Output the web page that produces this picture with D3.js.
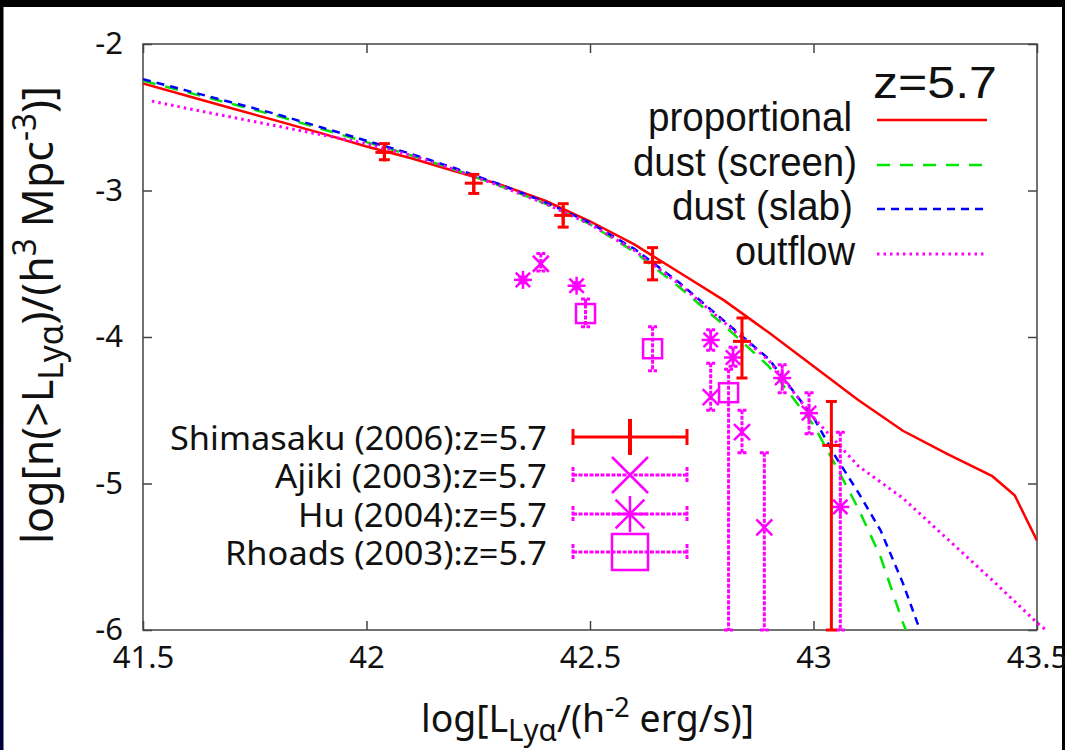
<!DOCTYPE html>
<meta charset="utf-8">
<style>
body { margin: 0; background: #fff; }
svg { display: block; }
.axis path { display: none; }
.axis line { stroke: #444; stroke-width: 1.5px; }
.axis text { font-family: "Noto Sans", sans-serif; font-size: 31px; fill: #111; }
.key text { font-family: "Liberation Sans", Arial, sans-serif; font-size: 40px; fill: #111; }
.key2 text { font-family: "Noto Sans", sans-serif; font-size: 32px; fill: #111; }
.label { font-family: "Noto Sans", sans-serif; fill: #111; }
</style>
<svg width="1065" height="750"></svg>

<script src="https://d3js.org/d3.v7.min.js"></script>
<script>

// model curves, log L vs log n(>L)
var propX = [41.5, 41.6, 41.7, 41.8, 41.9, 42.0, 42.1, 42.2, 42.3, 42.4, 42.5, 42.6, 42.7, 42.8, 42.9, 43.0, 43.1, 43.2, 43.3, 43.4, 43.45, 43.5];
var propY = [-2.27, -2.355, -2.44, -2.525, -2.61, -2.70, -2.78, -2.87, -2.96, -3.07, -3.21, -3.37, -3.56, -3.75, -3.97, -4.20, -4.43, -4.64, -4.80, -4.95, -5.08, -5.39];

var screenX = [41.5, 41.6, 41.7, 41.8, 41.9, 42.0, 42.1, 42.2, 42.3, 42.4, 42.5, 42.6, 42.7, 42.8, 42.9, 43.0, 43.05, 43.1, 43.15, 43.2, 43.22];
var screenY = [-2.25, -2.33, -2.41, -2.49, -2.58, -2.67, -2.76, -2.86, -2.97, -3.09, -3.23, -3.42, -3.66, -3.92, -4.20, -4.60, -4.88, -5.17, -5.50, -5.95, -6.1];

var slabX = [41.5, 41.6, 41.7, 41.8, 41.9, 42.0, 42.1, 42.2, 42.3, 42.4, 42.5, 42.6, 42.7, 42.8, 42.9, 43.0, 43.05, 43.1, 43.15, 43.2, 43.25];
var slabY = [-2.24, -2.32, -2.40, -2.48, -2.57, -2.66, -2.75, -2.85, -2.96, -3.08, -3.22, -3.40, -3.63, -3.89, -4.15, -4.55, -4.82, -5.06, -5.32, -5.68, -6.1];

var outflowX = [41.52, 41.6, 41.7, 41.8, 41.9, 42.0, 42.1, 42.2, 42.3, 42.4, 42.5, 42.6, 42.7, 42.8, 42.9, 43.0, 43.1, 43.2, 43.3, 43.4, 43.5, 43.52];
var outflowY = [-2.39, -2.44, -2.50, -2.56, -2.62, -2.68, -2.76, -2.86, -2.97, -3.09, -3.23, -3.41, -3.64, -3.90, -4.16, -4.55, -4.88, -5.10, -5.38, -5.66, -5.95, -6.0];

// observations: [logL, value, upper, lower]
var shimasaku = [[42.04, -2.74, -2.68, -2.79], [42.24, -2.95, -2.89, -3.02], [42.44, -3.17, -3.09, -3.25],
                 [42.64, -3.49, -3.39, -3.61], [42.84, -4.03, -3.87, -4.28], [43.04, -4.74, -4.44, -6.0]];
var ajiki = [[42.39, -3.50, -3.43, -3.55], [42.77, -4.41, -4.18, -4.50], [42.84, -4.65, -4.50, -4.79], [42.89, -5.30, -4.79, -6.0]];
var hu = [[42.35, -3.61, -3.59, -3.63], [42.47, -3.65, -3.63, -3.67], [42.77, -4.02, -3.95, -4.09], [42.82, -4.14, -4.07, -4.20],
          [42.93, -4.28, -4.19, -4.38], [42.99, -4.52, -4.38, -4.66], [43.06, -5.16, -4.65, -6.0]];
var rhoads = [[42.49, -3.84, -3.74, -3.93], [42.64, -4.08, -3.93, -4.23], [42.81, -4.38, -4.22, -6.0]];

var xTicks = [41.5, 42, 42.5, 43, 43.5];
var yTicks = [-2, -3, -4, -5, -6];

var modelNames = ["proportional", "dust (screen)", "dust (slab)", "outflow"];
var obsNames = ["Shimasaku (2006):z=5.7", "Ajiki (2003):z=5.7", "Hu (2004):z=5.7", "Rhoads (2003):z=5.7"];

var svg = d3.select("svg");

var x = d3.scaleLinear().domain([41.5, 43.5]).range([143, 1037]);
var y = d3.scaleLinear().domain([-6, -2]).range([630, 44]);

var red = "#ff0000", green = "#00e600", blue = "#0000ff", mag = "#ff00ff";

// page frame
var defs = svg.append("defs");
var grad = defs.append("linearGradient").attr("id", "edge").attr("x1", 0).attr("x2", 0).attr("y1", 0).attr("y2", 1);
grad.append("stop").attr("offset", "0.5").attr("stop-color", "#000");
grad.append("stop").attr("offset", "1").attr("stop-color", "#00003a");
defs.append("clipPath").attr("id", "plot")
  .append("rect").attr("x", 143).attr("y", 44).attr("width", 894).attr("height", 586);

svg.append("rect").attr("width", 1065).attr("height", 750).attr("fill", "#fff");
svg.append("rect").attr("width", 1065).attr("height", 7).attr("fill", "#000");
svg.append("rect").attr("width", 3.5).attr("height", 750).attr("fill", "url(#edge)");
svg.append("rect").attr("x", 1062).attr("width", 3).attr("height", 750).attr("fill", "#000");

// axes, ticks pointing inward on all four sides
var fmt = function(d) { return String(d); };
svg.append("g").attr("class", "axis").attr("transform", "translate(0,630)")
  .call(d3.axisBottom(x).tickValues(xTicks).tickSizeInner(-9).tickSizeOuter(0).tickPadding(16).tickFormat(fmt));
svg.append("g").attr("class", "axis").attr("transform", "translate(143,0)")
  .call(d3.axisLeft(y).tickValues(yTicks).tickSizeInner(-9).tickSizeOuter(0).tickPadding(20).tickFormat(fmt));
svg.append("g").attr("class", "axis").attr("transform", "translate(0,44)")
  .call(d3.axisTop(x).tickValues(xTicks).tickSizeInner(-9).tickSizeOuter(0).tickFormat(""));
svg.append("g").attr("class", "axis").attr("transform", "translate(1037,0)")
  .call(d3.axisRight(y).tickValues(yTicks).tickSizeInner(-9).tickSizeOuter(0).tickFormat(""));

svg.append("rect").attr("x", 143).attr("y", 44).attr("width", 894).attr("height", 586)
  .attr("fill", "none").attr("stroke", "#444").attr("stroke-width", 1.5);

// curves
var line = d3.line().x(function(d) { return x(d[0]); }).y(function(d) { return y(d[1]); });

var curves = [
  {xs: propX, ys: propY, color: red, dash: null, w: 2.5, clip: true},
  {xs: screenX, ys: screenY, color: green, dash: "13,10", w: 2.5, clip: true},
  {xs: slabX, ys: slabY, color: blue, dash: "8,6", w: 2.5, clip: true},
  {xs: outflowX, ys: outflowY, color: mag, dash: "2.5,4", w: 3, clip: false}
];

curves.forEach(function(c) {
  svg.append("path")
    .attr("d", line(d3.zip(c.xs, c.ys)))
    .attr("fill", "none")
    .attr("stroke", c.color)
    .attr("stroke-width", c.w)
    .attr("stroke-dasharray", c.dash)
    .attr("clip-path", c.clip ? "url(#plot)" : null);
});

// markers
function seg(g, x1, y1, x2, y2) {
  return g.append("line").attr("x1", x1).attr("y1", y1).attr("x2", x2).attr("y2", y2);
}

function marker(g, type, cx, cy, r) {
  if (type === "plus" || type === "star") {
    seg(g, cx - r, cy, cx + r, cy);
    seg(g, cx, cy - r, cx, cy + r);
  }
  if (type === "cross" || type === "star") {
    var k = type === "star" ? r * 0.8 : r;
    seg(g, cx - k, cy - k, cx + k, cy + k);
    seg(g, cx - k, cy + k, cx + k, cy - k);
  }
  if (type === "square") {
    g.append("rect").attr("x", cx - r).attr("y", cy - r).attr("width", 2 * r).attr("height", 2 * r).attr("fill", "none");
  }
}

function errbar(g, px, yHi, yLo, cap) {
  seg(g, px, yHi, px, yLo);
  seg(g, px - cap, yHi, px + cap, yHi);
  seg(g, px - cap, yLo, px + cap, yLo);
}

var magG = svg.append("g").attr("stroke", mag).attr("stroke-width", 2.5).attr("fill", "none");
[[ajiki, "cross", 8], [hu, "star", 9], [rhoads, "square", 9.5]].forEach(function(s) {
  s[0].forEach(function(d) {
    var eb = magG.append("g").attr("stroke-width", 3).attr("stroke-dasharray", "4,1.5");
    errbar(eb, x(d[0]), y(d[2]), y(d[3]), 4.5);
    marker(magG.append("g"), s[1], x(d[0]), y(d[1]), s[2]);
  });
});

var redG = svg.append("g").attr("stroke", red).attr("stroke-width", 3).attr("fill", "none");
shimasaku.forEach(function(d) {
  errbar(redG, x(d[0]), y(d[2]), y(d[3]), 5.5);
  marker(redG, "plus", x(d[0]), y(d[1]), 9);
});

// key, top right
function txt(g, s, xEnd, yBase, len) {
  return g.append("text").attr("x", xEnd - len).attr("y", yBase)
    .attr("textLength", len).attr("lengthAdjust", "spacingAndGlyphs").text(s);
}

var key = svg.append("g").attr("class", "key");
txt(key, "z=5.7", 997, 98, 124).style("font-size", "44px");
var keyBase = [131, 176, 220, 265], keyLen = [204, 224, 181, 120], keyEnd = [852, 857, 853, 855];
modelNames.forEach(function(n, i) {
  txt(key, n, keyEnd[i], keyBase[i], keyLen[i]);
  var c = curves[i];
  key.append("line").attr("x1", 877).attr("x2", 987)
    .attr("y1", keyBase[i] - 11).attr("y2", keyBase[i] - 11)
    .attr("stroke", c.color).attr("stroke-width", c.w).attr("stroke-dasharray", c.dash);
});

// key, bottom left
var key2 = svg.append("g").attr("class", "key2");
var obsBase = [450, 488, 527, 565], obsLen = [377, 272, 249, 322];
var obsType = ["plus", "cross", "star", "square"];
obsNames.forEach(function(n, i) {
  txt(key2, n, 547, obsBase[i], obsLen[i]);
  var ly = obsBase[i] - 13;
  var col = i === 0 ? red : mag;
  var g = key2.append("g").attr("stroke", col).attr("fill", "none").attr("stroke-width", i === 0 ? 3 : 2.5);
  var bar = g.append("g");
  if (i > 0) bar.attr("stroke-width", 3).attr("stroke-dasharray", "4,1.5");
  seg(bar, 573, ly, 687, ly);
  seg(bar, 573, ly - 8, 573, ly + 8);
  seg(bar, 687, ly - 8, 687, ly + 8);
  if (i === 0) seg(g, 630, ly - 18, 630, ly + 18).attr("stroke-width", 4);
  else marker(g, obsType[i], 630, ly, 18);
});

// axis titles
var yl = svg.append("text").attr("class", "label")
  .attr("transform", "translate(53,315) rotate(-90)")
  .attr("x", -229).attr("y", 0)
  .attr("textLength", 458).attr("lengthAdjust", "spacingAndGlyphs")
  .style("font-size", "44px");
yl.append("tspan").text("log[n(>L");
yl.append("tspan").attr("dy", 10).style("font-size", "34px").text("Lyα");
yl.append("tspan").attr("dy", -10).text(")/(h");
yl.append("tspan").attr("dy", -17).style("font-size", "32px").text("3");
yl.append("tspan").attr("dy", 17).text(" Mpc");
yl.append("tspan").attr("dy", -17).style("font-size", "32px").text("-3");
yl.append("tspan").attr("dy", 17).text(")]");

var xl = svg.append("text").attr("class", "label")
  .attr("x", 421).attr("y", 732)
  .attr("textLength", 333).attr("lengthAdjust", "spacingAndGlyphs")
  .style("font-size", "38px");
xl.append("tspan").text("log[L");
xl.append("tspan").attr("dy", 9).style("font-size", "30px").text("Lyα");
xl.append("tspan").attr("dy", -9).text("/(h");
xl.append("tspan").attr("dy", -15).style("font-size", "28px").text("-2");
xl.append("tspan").attr("dy", 15).text(" erg/s)]");

</script>
